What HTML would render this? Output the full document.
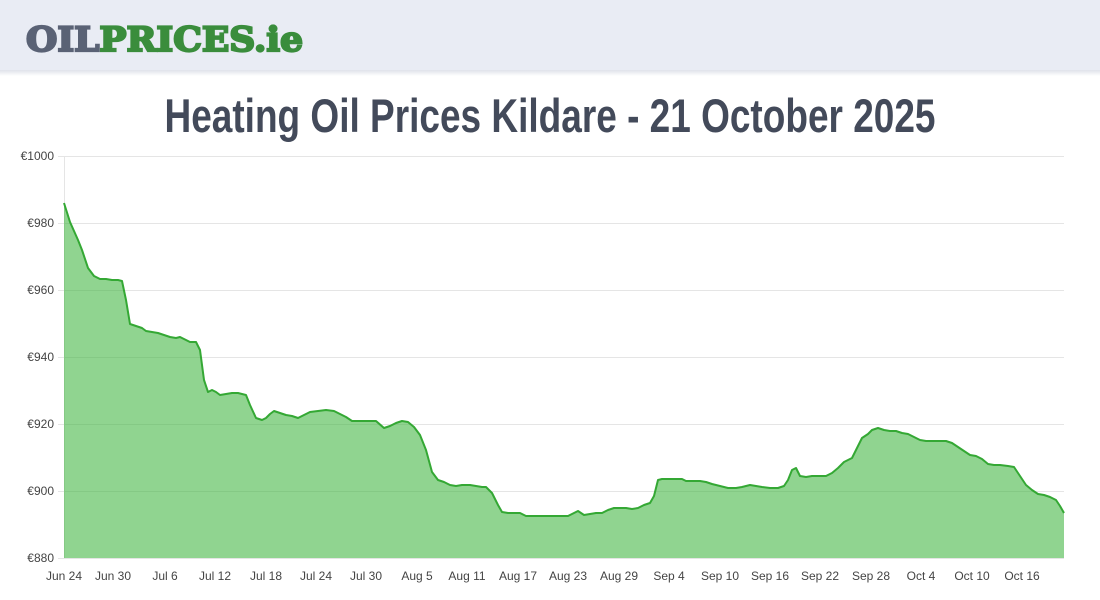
<!DOCTYPE html>
<html><head><meta charset="utf-8"><style>
html,body{margin:0;padding:0;background:#fff;}
svg{display:block;}
</style></head><body>
<svg width="1100" height="600" viewBox="0 0 1100 600" xmlns="http://www.w3.org/2000/svg">
<defs><linearGradient id="sh" x1="0" y1="0" x2="0" y2="1"><stop offset="0" stop-color="#dfe2ea"/><stop offset="1" stop-color="#fff"/></linearGradient></defs>
<rect x="0" y="0" width="1100" height="70" fill="#e9ecf4"/>
<rect x="0" y="70" width="1100" height="6" fill="url(#sh)"/>
<text x="26" y="51" font-family="'DejaVu Serif','Liberation Serif',serif" font-weight="bold" font-size="34" stroke-width="2.2" textLength="277" lengthAdjust="spacingAndGlyphs"><tspan fill="#5a6275" stroke="#5a6275">OIL</tspan><tspan fill="#3a8d3c" stroke="#3a8d3c">PRICES.ie</tspan></text>
<text x="550" y="132" text-anchor="middle" font-family="'Liberation Sans Narrow','Liberation Sans',sans-serif" font-weight="bold" font-size="47" fill="#434a5a" textLength="771" lengthAdjust="spacingAndGlyphs">Heating Oil Prices Kildare - 21 October 2025</text>
<g stroke="#e5e5e5" stroke-width="1">
<line x1="58" y1="156.5" x2="1064" y2="156.5"/><line x1="58" y1="223.5" x2="1064" y2="223.5"/><line x1="58" y1="290.5" x2="1064" y2="290.5"/><line x1="58" y1="357.5" x2="1064" y2="357.5"/><line x1="58" y1="424.5" x2="1064" y2="424.5"/><line x1="58" y1="491.5" x2="1064" y2="491.5"/><line x1="58" y1="558.5" x2="1064" y2="558.5"/><line x1="64.5" y1="156" x2="64.5" y2="558"/>
</g>
<g font-family="'Liberation Sans',Arial,sans-serif" font-size="12" fill="#444" text-anchor="end">
<text x="54" y="160">€1000</text><text x="54" y="227">€980</text><text x="54" y="294">€960</text><text x="54" y="361">€940</text><text x="54" y="428">€920</text><text x="54" y="495">€900</text><text x="54" y="562">€880</text>
</g>
<g font-family="'Liberation Sans',Arial,sans-serif" font-size="12" fill="#444" text-anchor="middle">
<text x="64" y="580">Jun 24</text><text x="113" y="580">Jun 30</text><text x="165" y="580">Jul 6</text><text x="215" y="580">Jul 12</text><text x="266" y="580">Jul 18</text><text x="316" y="580">Jul 24</text><text x="366" y="580">Jul 30</text><text x="417" y="580">Aug 5</text><text x="467" y="580">Aug 11</text><text x="518" y="580">Aug 17</text><text x="568" y="580">Aug 23</text><text x="619" y="580">Aug 29</text><text x="669" y="580">Sep 4</text><text x="720" y="580">Sep 10</text><text x="770" y="580">Sep 16</text><text x="820" y="580">Sep 22</text><text x="871" y="580">Sep 28</text><text x="921" y="580">Oct 4</text><text x="972" y="580">Oct 10</text><text x="1022" y="580">Oct 16</text>
</g>
<path fill="rgba(60,180,60,0.57)" stroke="none" d="M64,558 L64,203 L70,222 L78,240 L82,250 L88,268 L94,276 L100,279 L106,279 L112,280 L118,280 L122,281 L126,300 L130,324 L136,326 L142,328 L146,331 L152,332 L158,333 L164,335 L170,337 L176,338 L180,337 L186,340 L190,342 L196,342 L200,350 L204,380 L208,392 L212,390 L216,392 L220,395 L226,394 L232,393 L238,393 L246,395 L250,405 L256,418 L262,420 L266,418 L270,414 L274,411 L280,413 L286,415 L292,416 L298,418 L304,415 L310,412 L318,411 L326,410 L334,411 L340,414 L346,417 L352,421 L360,421 L368,421 L376,421 L384,428 L390,426 L396,423 L402,421 L408,422 L414,427 L420,435 L426,450 L432,472 L438,480 L444,482 L450,485 L456,486 L462,485 L470,485 L476,486 L482,487 L486,487 L492,493 L498,505 L502,512 L508,513 L514,513 L520,513 L526,516 L532,516 L540,516 L550,516 L560,516 L568,516 L572,514 L578,511 L584,515 L590,514 L596,513 L602,513 L608,510 L614,508 L620,508 L626,508 L632,509 L638,508 L644,505 L650,503 L654,496 L658,480 L662,479 L668,479 L676,479 L682,479 L686,481 L692,481 L700,481 L706,482 L712,484 L720,486 L728,488 L736,488 L742,487 L750,485 L756,486 L762,487 L770,488 L778,488 L784,486 L788,480 L792,470 L796,468 L800,476 L806,477 L812,476 L820,476 L826,476 L832,473 L838,468 L844,462 L852,458 L856,450 L862,438 L868,434 L872,430 L878,428 L884,430 L890,431 L896,431 L902,433 L908,434 L914,437 L920,440 L926,441 L932,441 L940,441 L946,441 L952,443 L958,447 L964,451 L970,455 L976,456 L982,459 L988,464 L994,465 L1000,465 L1008,466 L1014,467 L1020,476 L1026,485 L1032,490 L1038,494 L1044,495 L1050,497 L1056,500 L1060,506 L1064,513 L1064,558 Z"/>
<polyline fill="none" stroke="#34a834" stroke-width="2" stroke-linejoin="round" points="64,203 70,222 78,240 82,250 88,268 94,276 100,279 106,279 112,280 118,280 122,281 126,300 130,324 136,326 142,328 146,331 152,332 158,333 164,335 170,337 176,338 180,337 186,340 190,342 196,342 200,350 204,380 208,392 212,390 216,392 220,395 226,394 232,393 238,393 246,395 250,405 256,418 262,420 266,418 270,414 274,411 280,413 286,415 292,416 298,418 304,415 310,412 318,411 326,410 334,411 340,414 346,417 352,421 360,421 368,421 376,421 384,428 390,426 396,423 402,421 408,422 414,427 420,435 426,450 432,472 438,480 444,482 450,485 456,486 462,485 470,485 476,486 482,487 486,487 492,493 498,505 502,512 508,513 514,513 520,513 526,516 532,516 540,516 550,516 560,516 568,516 572,514 578,511 584,515 590,514 596,513 602,513 608,510 614,508 620,508 626,508 632,509 638,508 644,505 650,503 654,496 658,480 662,479 668,479 676,479 682,479 686,481 692,481 700,481 706,482 712,484 720,486 728,488 736,488 742,487 750,485 756,486 762,487 770,488 778,488 784,486 788,480 792,470 796,468 800,476 806,477 812,476 820,476 826,476 832,473 838,468 844,462 852,458 856,450 862,438 868,434 872,430 878,428 884,430 890,431 896,431 902,433 908,434 914,437 920,440 926,441 932,441 940,441 946,441 952,443 958,447 964,451 970,455 976,456 982,459 988,464 994,465 1000,465 1008,466 1014,467 1020,476 1026,485 1032,490 1038,494 1044,495 1050,497 1056,500 1060,506 1064,513"/>
</svg>
</body></html>
